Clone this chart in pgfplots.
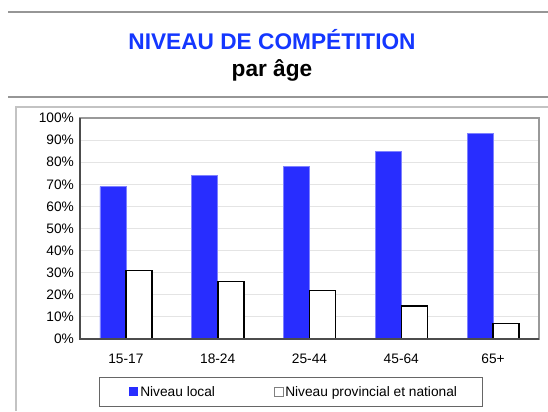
\documentclass[border=0pt]{standalone}
\usepackage{pgfplots}
\pgfplotsset{compat=1.18}
\usepackage{fontspec}
\setmainfont{Liberation Sans}
\definecolor{barblue}{RGB}{40,45,255}
\definecolor{titleblue}{RGB}{20,55,255}
\definecolor{rulegray}{RGB}{150,150,150}
\definecolor{framegray}{RGB}{195,195,195}
\definecolor{gridgray}{RGB}{228,228,228}

\pgfplotstableread{
x  local  prov
0  69     31
1  74     26
2  78     22
3  85     15
4  93     7
}\niveau

\begin{document}
\begin{tikzpicture}[font=\fontsize{10.3}{12}\selectfont]
% pixel grid: 1px = 0.75pt, y downwards
\path[use as bounding box] (0,0) rectangle ({548*0.75pt},{-411*0.75pt});
\draw[rulegray, line width=1.6pt] ({8*0.75pt},{-12*0.75pt}) -- ({548*0.75pt},{-12*0.75pt});
\draw[rulegray, line width=1.6pt] ({8*0.75pt},{-97*0.75pt}) -- ({548*0.75pt},{-97*0.75pt});
\node[titleblue, font=\fontsize{17}{20}\selectfont\bfseries] at ({272*0.75pt},{-40*0.75pt}) {NIVEAU DE COMPÉTITION};
\node[black, font=\fontsize{17}{20}\selectfont\bfseries] at ({272*0.75pt},{-70*0.75pt}) {par âge};
\draw[framegray, line width=1.2pt] ({16*0.75pt},{-411*0.75pt}) -- ({16*0.75pt},{-107*0.75pt}) -- ({548*0.75pt},{-107*0.75pt});

\begin{axis}[
    at={({80*0.75pt},{-339*0.75pt})},
    anchor=south west,
    scale only axis,
    width={459*0.75pt},
    height={221*0.75pt},
    xmin=-0.5, xmax=4.5,
    ymin=0, ymax=100,
    ytick={0,10,...,100},
    yticklabel={\pgfmathprintnumber{\tick}\%},
    xtick=data,
    xticklabels={15-17,18-24,25-44,45-64,65+},
    /pgf/number format/assume math mode=true,
    major tick length=0pt,
    ymajorgrids,
    grid style={gridgray, line width=0.8pt},
    axis line style={black!40, line width=1pt},
    yticklabel style={xshift=-1pt},
    xticklabel style={yshift=-8pt},
    ybar,
    bar width={26*0.75pt},
    clip=false,
]
\addplot[fill=barblue, draw=barblue!60, line width=0.5pt, bar shift={-13*0.75pt}] table[x=x, y=local] {\niveau};
\addplot[fill=white, draw=black, line width=1.2pt, bar shift={13*0.75pt}] table[x=x, y=prov] {\niveau};
\draw[black!70, line width=1pt] (rel axis cs:0,1) -- (rel axis cs:0,0) -- (rel axis cs:1,0);
\end{axis}

% legend box
\draw[black!60, line width=0.6pt] ({99*0.75pt},{-377*0.75pt}) rectangle ({482*0.75pt},{-406*0.75pt});
\fill[barblue] ({129*0.75pt},{-387*0.75pt}) rectangle ({138*0.75pt},{-396*0.75pt});
\node[anchor=base west, inner sep=0pt] at ({140*0.75pt},{-396*0.75pt}) {Niveau local};
\draw[black!50, line width=0.6pt] ({274*0.75pt},{-387*0.75pt}) rectangle ({283*0.75pt},{-396*0.75pt});
\node[anchor=base west, inner sep=0pt] at ({285*0.75pt},{-396*0.75pt}) {Niveau provincial et national};
\end{tikzpicture}
\end{document}
